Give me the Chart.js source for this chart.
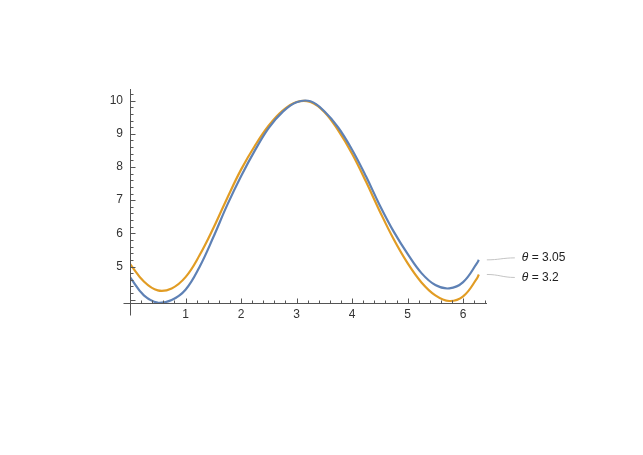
<!DOCTYPE html>
<html>
<head>
  <title>Two curves for theta</title>
  <style>
    body { margin: 0; background: #fff; }
    canvas { display: block; }
  </style>
</head>
<body>
  <canvas id="plot" width="643" height="455"></canvas>

  <script src="https://cdn.jsdelivr.net/npm/chart.js"></script>
  <script>
    // values
    const xValues = [0, 0.25, 0.5, 0.75, 1, 1.25, 1.5, 1.75, 2, 2.25, 2.5, 2.75, 3, 3.25,
      3.5, 3.75, 4, 4.25, 4.5, 4.75, 5, 5.25, 5.5, 5.75, 6, 6.25, 6.283];
    const blueValues = [4.68, 4.13, 3.91, 3.99, 4.3, 4.98, 5.88, 6.85, 7.72, 8.5, 9.18, 9.66, 9.95, 9.98,
      9.68, 9.19, 8.52, 7.72, 6.84, 6.05, 5.38, 4.8, 4.44, 4.34, 4.53, 5.1, 5.2];
    const orangeValues = [5.08, 4.55, 4.28, 4.34, 4.68, 5.33, 6.15, 7.06, 7.92, 8.64, 9.25, 9.7, 9.96, 9.96,
      9.66, 9.1, 8.4, 7.56, 6.66, 5.82, 5.1, 4.52, 4.13, 3.96, 4.1, 4.64, 4.76];
    const seriesThetas = ['3.05', '3.2'];
    const xTickValues = [1, 2, 3, 4, 5, 6];
    const yTickValues = [5, 6, 7, 8, 9, 10];
    const minorStep = 0.2;

    const blue = '#5e81b5';
    const orange = '#e19c24';
    const font = '"Liberation Sans", Arial, sans-serif';

    function toPoints(ys) {
      return xValues.map((x, i) => ({ x: x, y: ys[i] }));
    }

    // Mathematica style axes: ticks on the inside, lines crossing at the origin
    const axesPlugin = {
      id: 'mathAxes',
      afterDatasetsDraw(chart) {
        const { ctx, chartArea } = chart;
        const xs = chart.scales.x, ys = chart.scales.y;
        const x0 = Math.round(xs.getPixelForValue(0)) + 0.5;
        const yb = Math.round(chartArea.bottom) + 0.5;
        ctx.save();
        ctx.strokeStyle = '#555';
        ctx.lineWidth = 1;
        ctx.beginPath();
        ctx.moveTo(x0 - 7, yb);
        ctx.lineTo(chartArea.right, yb);
        ctx.moveTo(x0, chartArea.top - 1);
        ctx.lineTo(x0, yb + 12);
        for (let i = 1; i * minorStep <= xs.max + 1e-9; i++) {
          const px = Math.round(xs.getPixelForValue(i * minorStep)) + 0.5;
          const len = i % 5 === 0 ? 5 : 3;
          ctx.moveTo(px, yb);
          ctx.lineTo(px, yb - len);
        }
        const first = Math.ceil(ys.min / minorStep);
        for (let i = first; i * minorStep <= ys.max + 1e-9; i++) {
          const py = Math.round(ys.getPixelForValue(i * minorStep)) + 0.5;
          const len = i % 5 === 0 ? 5 : 3;
          ctx.moveTo(x0, py);
          ctx.lineTo(x0 + len, py);
        }
        ctx.stroke();

        // labels at the right end of each curve
        const ends = chart.data.datasets.map((d, i) => chart.getDatasetMeta(i).data.at(-1));
        const offsets = [-2, 3];
        ends.forEach((pt, i) => {
          const ly = pt.y + offsets[i];
          const sx = pt.x + 8, ex = pt.x + 36;
          ctx.strokeStyle = '#c4c4c4';
          ctx.beginPath();
          ctx.moveTo(sx, pt.y);
          ctx.bezierCurveTo(sx + 12, pt.y, ex - 12, ly, ex, ly);
          ctx.stroke();
          ctx.fillStyle = '#222';
          ctx.textBaseline = 'middle';
          ctx.font = 'italic 12px ' + font;
          const tx = pt.x + 43;
          ctx.fillText('\u03b8', tx, ly);
          const w = ctx.measureText('\u03b8').width;
          ctx.font = '12px ' + font;
          ctx.fillText(' = ' + seriesThetas[i], tx + w, ly);
        });
        ctx.restore();
      }
    };

    new Chart(document.getElementById('plot'), {
      type: 'line',
      data: {
        datasets: [
          { data: toPoints(blueValues), borderColor: blue },
          { data: toPoints(orangeValues), borderColor: orange }
        ]
      },
      options: {
        responsive: false,
        animation: false,
        layout: { padding: { top: 90, right: 156, left: 0, bottom: 0 } },
        elements: {
          point: { radius: 0 },
          line: { borderWidth: 2.2, tension: 0.4, fill: false }
        },
        plugins: { legend: { display: false }, tooltip: { enabled: false } },
        scales: {
          x: {
            type: 'linear',
            min: 0,
            max: 6.43,
            grid: { display: false, drawTicks: false },
            border: { display: false },
            afterBuildTicks: s => { s.ticks = xTickValues.map(v => ({ value: v })); },
            afterFit: s => { s.height = 152; },
            ticks: { padding: 4, color: '#333', font: { size: 12, family: font }, maxRotation: 0 }
          },
          y: {
            type: 'linear',
            min: 3.9,
            max: 10.32,
            grid: { display: false, drawTicks: false },
            border: { display: false },
            afterBuildTicks: s => { s.ticks = yTickValues.map(v => ({ value: v })); },
            afterFit: s => { s.width = 130; },
            ticks: { padding: 7, color: '#333', font: { size: 12, family: font } }
          }
        }
      },
      plugins: [axesPlugin]
    });
  </script>
</body>
</html>
